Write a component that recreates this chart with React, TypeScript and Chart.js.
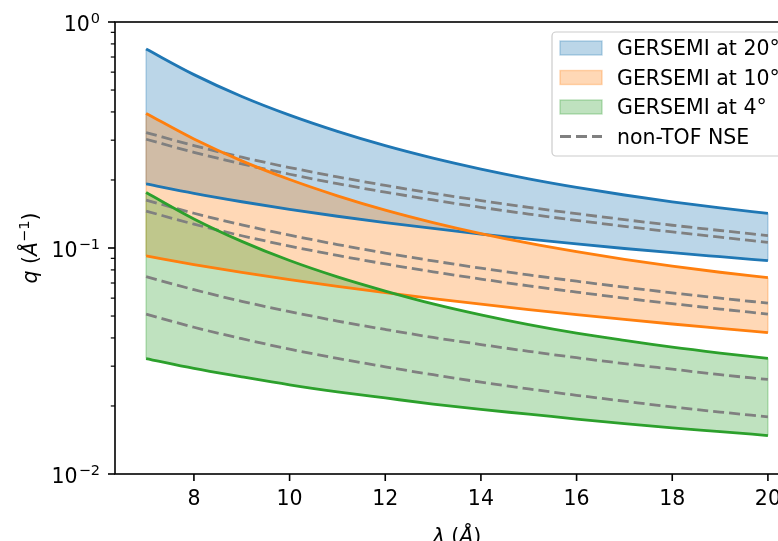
import React, { useEffect, useRef } from "react";
import { Chart, registerables } from "chart.js";

Chart.register(...registerables);

// ---- data ----
const wavelengths = [7, 8, 9, 10, 11, 12, 13, 14, 15, 16, 17, 18, 19, 20];

const blueTop = [0.759, 0.585, 0.468, 0.387, 0.328, 0.2835, 0.2497, 0.2234, 0.2024, 0.1855, 0.1716, 0.1601, 0.1505, 0.1424];
const blueBottom = [0.192, 0.1745, 0.1602, 0.1482, 0.1382, 0.1295, 0.122, 0.1153, 0.1094, 0.1042, 0.0995, 0.0953, 0.0915, 0.0879];
const orangeTop = [0.394, 0.3036, 0.2429, 0.2009, 0.1702, 0.1471, 0.1296, 0.1159, 0.105, 0.0963, 0.0891, 0.0831, 0.0781, 0.0739];
const orangeBottom = [0.0922, 0.0845, 0.078, 0.0724, 0.0676, 0.0634, 0.0597, 0.0564, 0.0534, 0.0507, 0.0483, 0.0461, 0.0441, 0.0422];
const greenTop = [0.176, 0.1345, 0.107, 0.088, 0.0745, 0.0645, 0.0566, 0.0506, 0.0458, 0.042, 0.039, 0.0364, 0.0343, 0.0325];
const greenBottom = [0.0324, 0.0293, 0.0269, 0.0248, 0.0231, 0.0217, 0.0204, 0.0193, 0.0184, 0.0175, 0.0167, 0.016, 0.0154, 0.0148];

const nse1 = [0.3243, 0.2838, 0.2522, 0.227, 0.2064, 0.1892, 0.1746, 0.1621, 0.1513, 0.1419, 0.1335, 0.1261, 0.1195, 0.1135];
const nse2 = [0.3029, 0.265, 0.2356, 0.212, 0.1927, 0.1767, 0.1631, 0.1514, 0.1413, 0.1325, 0.1247, 0.1178, 0.1116, 0.106];
const nse3 = [0.1629, 0.1425, 0.1267, 0.114, 0.1036, 0.095, 0.0877, 0.0814, 0.076, 0.0713, 0.0671, 0.0633, 0.06, 0.057];
const nse4 = [0.1457, 0.1275, 0.1133, 0.102, 0.0927, 0.085, 0.0785, 0.0729, 0.068, 0.0638, 0.06, 0.0567, 0.0537, 0.051];
const nse5 = [0.0747, 0.0654, 0.0581, 0.0523, 0.0475, 0.0436, 0.0402, 0.0374, 0.0349, 0.0327, 0.0308, 0.0291, 0.0275, 0.0262];
const nse6 = [0.051, 0.0446, 0.0397, 0.0357, 0.0325, 0.0298, 0.0275, 0.0255, 0.0238, 0.0223, 0.021, 0.0198, 0.0188, 0.0179];

const xTicks = [8, 10, 12, 14, 16, 18, 20];
const yMajorTicks = [0.01, 0.1, 1];
const yMajorExponents = ["\u22122", "\u22121", "0"];
const yMinorTicks = [0.02, 0.03, 0.04, 0.05, 0.06, 0.07, 0.08, 0.09, 0.2, 0.3, 0.4, 0.5, 0.6, 0.7, 0.8, 0.9];
const legendLabels = ["GERSEMI at 20\u00b0", "GERSEMI at 10\u00b0", "GERSEMI at 4\u00b0", "non-TOF NSE"];

// ---- styles ----
const BLUE = "#1f77b4";
const ORANGE = "#ff7f0e";
const GREEN = "#2ca02c";
const GRAY = "#808080";
const BLUE_A = "rgba(31,119,180,0.3)";
const ORANGE_A = "rgba(255,127,14,0.3)";
const GREEN_A = "rgba(44,160,44,0.3)";
const FONT = '"DejaVu Sans", sans-serif';
const FS = 20.5;
const FS_SUP = 14.5;

const CANVAS_W = 840;
const CANVAS_H = 560;

const bands = [
  { top: blueTop, bottom: blueBottom, fill: BLUE_A },
  { top: orangeTop, bottom: orangeBottom, fill: ORANGE_A },
  { top: greenTop, bottom: greenBottom, fill: GREEN_A },
];

function drawSegments(ctx: CanvasRenderingContext2D, segs: any[], cx: number, baseline: number) {
  let total = 0;
  const widths = segs.map((s) => {
    ctx.font = s.font;
    const w = ctx.measureText(s.text).width;
    total += w;
    return w;
  });
  let x = cx - total / 2;
  ctx.textAlign = "left";
  ctx.textBaseline = "alphabetic";
  segs.forEach((s, i) => {
    ctx.font = s.font;
    ctx.fillText(s.text, x, baseline + (s.dy || 0));
    x += widths[i];
  });
}

const decorPlugin = {
  id: "decor",
  beforeDatasetsDraw(chart: any) {
    const ctx = chart.ctx as CanvasRenderingContext2D;
    const xs = chart.scales.x;
    const ys = chart.scales.y;
    ctx.save();
    ctx.lineWidth = 1.4;
    bands.forEach((b) => {
      ctx.strokeStyle = b.fill;
      [0, wavelengths.length - 1].forEach((i) => {
        const x = xs.getPixelForValue(wavelengths[i]);
        ctx.beginPath();
        ctx.moveTo(x, ys.getPixelForValue(b.top[i]));
        ctx.lineTo(x, ys.getPixelForValue(b.bottom[i]));
        ctx.stroke();
      });
    });
    ctx.restore();
  },
  afterDraw(chart: any) {
    const ctx = chart.ctx as CanvasRenderingContext2D;
    const { left, right, top, bottom } = chart.chartArea;
    const xs = chart.scales.x;
    const ys = chart.scales.y;
    ctx.save();

    // frame
    ctx.strokeStyle = "#000";
    ctx.lineWidth = 1.6;
    ctx.strokeRect(left, top, right - left, bottom - top);

    // x ticks + labels
    ctx.fillStyle = "#000";
    ctx.lineWidth = 1.6;
    xTicks.forEach((v) => {
      const x = xs.getPixelForValue(v);
      ctx.beginPath();
      ctx.moveTo(x, bottom);
      ctx.lineTo(x, bottom + 7);
      ctx.stroke();
      ctx.font = `${FS}px ${FONT}`;
      ctx.textAlign = "center";
      ctx.textBaseline = "alphabetic";
      ctx.fillText(String(v), x, 505);
    });

    // y minor ticks
    ctx.lineWidth = 1.2;
    yMinorTicks.forEach((v) => {
      const y = ys.getPixelForValue(v);
      ctx.beginPath();
      ctx.moveTo(left - 4.2, y);
      ctx.lineTo(left, y);
      ctx.stroke();
    });

    // y major ticks + labels
    ctx.lineWidth = 1.6;
    yMajorTicks.forEach((v, i) => {
      const y = ys.getPixelForValue(v);
      ctx.beginPath();
      ctx.moveTo(left - 7, y);
      ctx.lineTo(left, y);
      ctx.stroke();
      const exp = yMajorExponents[i];
      ctx.font = `${FS}px ${FONT}`;
      const wBase = ctx.measureText("10").width;
      ctx.font = `${FS_SUP}px ${FONT}`;
      const wExp = ctx.measureText(exp).width;
      const rightX = left - 15;
      const startX = rightX - wExp - 1 - wBase;
      ctx.textAlign = "left";
      ctx.textBaseline = "alphabetic";
      ctx.font = `${FS}px ${FONT}`;
      ctx.fillText("10", startX, y + 8.5);
      ctx.font = `${FS_SUP}px ${FONT}`;
      ctx.fillText(exp, startX + wBase + 1, y + 0.5);
    });

    // x axis title
    drawSegments(
      ctx,
      [
        { text: "\u03bb", font: `italic ${FS}px ${FONT}` },
        { text: " (", font: `${FS}px ${FONT}` },
        { text: "\u00c5", font: `italic ${FS}px ${FONT}` },
        { text: ")", font: `${FS}px ${FONT}` },
      ],
      (left + right) / 2,
      543
    );

    // y axis title
    ctx.save();
    ctx.translate(37, (top + bottom) / 2);
    ctx.rotate(-Math.PI / 2);
    drawSegments(
      ctx,
      [
        { text: "q", font: `italic ${FS}px ${FONT}` },
        { text: " (", font: `${FS}px ${FONT}` },
        { text: "\u00c5", font: `italic ${FS}px ${FONT}` },
        { text: "\u22121", font: `${FS_SUP}px ${FONT}`, dy: -8 },
        { text: ")", font: `${FS}px ${FONT}` },
      ],
      0,
      0
    );
    ctx.restore();

    // legend
    const lx = 552;
    const ly = 32;
    ctx.font = `${FS}px ${FONT}`;
    const maxW = Math.max(...legendLabels.map((t) => ctx.measureText(t).width));
    const lw = 617 - lx + maxW + 9;
    const lh = 124;
    ctx.beginPath();
    const r = 4;
    ctx.moveTo(lx + r, ly);
    ctx.lineTo(lx + lw - r, ly);
    ctx.arcTo(lx + lw, ly, lx + lw, ly + r, r);
    ctx.lineTo(lx + lw, ly + lh - r);
    ctx.arcTo(lx + lw, ly + lh, lx + lw - r, ly + lh, r);
    ctx.lineTo(lx + r, ly + lh);
    ctx.arcTo(lx, ly + lh, lx, ly + lh - r, r);
    ctx.lineTo(lx, ly + r);
    ctx.arcTo(lx, ly, lx + r, ly, r);
    ctx.closePath();
    ctx.fillStyle = "rgba(255,255,255,0.8)";
    ctx.fill();
    ctx.strokeStyle = "#cccccc";
    ctx.lineWidth = 1.2;
    ctx.stroke();

    const rowY = [48, 77.5, 107, 136.5];
    const fills = [BLUE_A, ORANGE_A, GREEN_A];
    rowY.forEach((cy, i) => {
      if (i < 3) {
        ctx.fillStyle = fills[i];
        ctx.fillRect(560, cy - 7, 42, 14);
        ctx.strokeStyle = fills[i];
        ctx.lineWidth = 1.4;
        ctx.strokeRect(560, cy - 7, 42, 14);
      } else {
        ctx.strokeStyle = GRAY;
        ctx.lineWidth = 2.8;
        ctx.setLineDash([11, 5]);
        ctx.beginPath();
        ctx.moveTo(560, cy);
        ctx.lineTo(602, cy);
        ctx.stroke();
        ctx.setLineDash([]);
      }
      ctx.fillStyle = "#000";
      ctx.font = `${FS}px ${FONT}`;
      ctx.textAlign = "left";
      ctx.textBaseline = "alphabetic";
      ctx.fillText(legendLabels[i], 617, cy + 7.3);
    });

    ctx.restore();
  },
};

function solid(data: number[], color: string, fill: any) {
  return {
    data: wavelengths.map((x, i) => ({ x, y: data[i] })),
    borderColor: color,
    backgroundColor: fill || "transparent",
    borderWidth: 2.8,
    pointRadius: 0,
    fill: fill ? "+1" : false,
    cubicInterpolationMode: "monotone",
  };
}

function dashed(data: number[]) {
  return {
    data: wavelengths.map((x, i) => ({ x, y: data[i] })),
    borderColor: GRAY,
    borderWidth: 2.8,
    borderDash: [11, 5],
    pointRadius: 0,
    fill: false,
    cubicInterpolationMode: "monotone",
  };
}

export default function App() {
  const canvasRef = useRef<HTMLCanvasElement | null>(null);

  useEffect(() => {
    if (!canvasRef.current) return;
    const chart = new Chart(canvasRef.current, {
      type: "line",
      data: {
        datasets: [
          solid(greenTop, GREEN, GREEN_A),
          solid(greenBottom, GREEN, null),
          solid(orangeTop, ORANGE, ORANGE_A),
          solid(orangeBottom, ORANGE, null),
          solid(blueTop, BLUE, BLUE_A),
          solid(blueBottom, BLUE, null),
          dashed(nse1),
          dashed(nse2),
          dashed(nse3),
          dashed(nse4),
          dashed(nse5),
          dashed(nse6),
        ] as any,
      },
      options: {
        responsive: false,
        animation: false,
        devicePixelRatio: 1,
        layout: { padding: { left: 0, top: 22, right: CANVAS_W - 799, bottom: 0 } },
        plugins: {
          legend: { display: false },
          tooltip: { enabled: false },
          filler: { drawTime: "beforeDatasetsDraw" },
        },
        scales: {
          x: {
            type: "linear",
            min: 6.35,
            max: 20.65,
            grid: { display: false },
            border: { display: false },
            ticks: { display: false },
            afterFit: (s: any) => {
              s.height = CANVAS_H - 474;
            },
          },
          y: {
            type: "logarithmic",
            min: 0.01,
            max: 1,
            grid: { display: false },
            border: { display: false },
            ticks: { display: false },
            afterFit: (s: any) => {
              s.width = 115;
            },
          },
        },
      } as any,
      plugins: [decorPlugin as any],
    });
    return () => chart.destroy();
  }, []);

  return (
    <div
      style={{
        position: "fixed",
        left: 0,
        top: 0,
        width: 778,
        height: 541,
        overflow: "hidden",
        background: "#ffffff",
      }}
    >
      <canvas
        ref={canvasRef}
        width={CANVAS_W}
        height={CANVAS_H}
        style={{ width: CANVAS_W, height: CANVAS_H, display: "block" }}
      />
    </div>
  );
}
